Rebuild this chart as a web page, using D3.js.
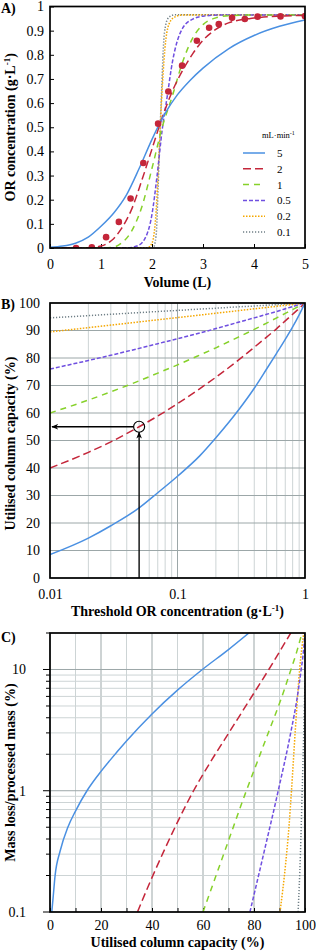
<!DOCTYPE html>
<html>
<head>
<meta charset="utf-8">
<title>Column breakthrough</title>
<script src="https://cdn.jsdelivr.net/npm/d3@7"></script>
<style>
  body { margin: 0; background: #fff; }
  svg { display: block; font-family: 'Liberation Serif', 'Times New Roman', serif; }
  .tick text { font-size: 14px; fill: #000; font-family: 'Liberation Serif', 'Times New Roman', serif; }
  .tick line { stroke: #000; }
  .axis_title { font-size: 14px; font-weight: bold; text-anchor: middle; }
  .panel_label { font-size: 14px; font-weight: bold; }
  .grid_major { stroke: #9ca7a8; stroke-width: 1; }
  .grid_minor { stroke: #cdd4d5; stroke-width: 1; }
  .frame { fill: none; stroke: #000; stroke-width: 1.7; }
  .curve { fill: none; stroke-width: 1.5; }
  .legend_text { font-size: 11px; }
</style>
</head>
<body>
<script>

// flow rates (mL/min) and their line styles
var rates  = ["5", "2", "1", "0.5", "0.2", "0.1"];
var colors = ["#4a90e2", "#c4263a", "#86d12a", "#6f4fe0", "#f5a700", "#6f7f86"];
var dashes = [null, "8,4", "6,5", "4,2", "1.5,1.5", "1.2,1.8"];

// A) breakthrough curves, [volume (L), OR concentration (g/L)]
var curveA_5  = [[0,0.003],[0.25,0.008],[0.5,0.02],[0.75,0.045],[1,0.09],[1.25,0.145],[1.5,0.22],[1.75,0.33],[2,0.45],[2.25,0.555],[2.5,0.635],[2.75,0.695],[3,0.745],[3.5,0.825],[4,0.88],[4.5,0.918],[5,0.944]];
var curveA_2  = [[0,0],[0.5,0],[0.8,0.002],[1,0.008],[1.2,0.03],[1.4,0.08],[1.6,0.16],[1.8,0.28],[2,0.41],[2.2,0.54],[2.4,0.65],[2.6,0.735],[2.8,0.805],[3,0.86],[3.25,0.905],[3.5,0.932],[4,0.952],[4.5,0.96],[5,0.963]];
var curveA_1  = [[0,0],[1,0],[1.2,0.002],[1.4,0.02],[1.6,0.07],[1.8,0.17],[2,0.33],[2.2,0.5],[2.4,0.63],[2.6,0.77],[2.8,0.87],[3,0.925],[3.25,0.953],[3.5,0.962],[4,0.965],[5,0.965]];
var curveA_05 = [[0,0],[1.5,0],[1.7,0.008],[1.85,0.035],[2,0.14],[2.1,0.3],[2.2,0.49],[2.3,0.63],[2.4,0.77],[2.5,0.86],[2.6,0.91],[2.8,0.948],[3,0.96],[3.4,0.965],[5,0.965]];
var curveA_02 = [[0,0],[1.9,0],[2,0.02],[2.08,0.15],[2.14,0.4],[2.2,0.66],[2.27,0.86],[2.35,0.935],[2.45,0.957],[2.6,0.965],[5,0.965]];
var curveA_01 = [[0,0],[2.02,0],[2.08,0.05],[2.12,0.25],[2.16,0.5],[2.19,0.66],[2.22,0.82],[2.27,0.925],[2.33,0.955],[2.45,0.966],[5,0.966]];

// A) experimental points at 2 mL/min
var expVol  = [0.51, 0.82, 1.1, 1.35, 1.58, 1.83, 2.12, 2.32, 2.59, 2.88, 3.12, 3.31, 3.57, 3.82, 4.07, 4.52, 5.0];
var expConc = [0, 0.003, 0.045, 0.108, 0.205, 0.352, 0.515, 0.648, 0.755, 0.858, 0.912, 0.927, 0.953, 0.948, 0.958, 0.959, 0.96];

// B) utilised column capacity (%) at each threshold concentration (g/L)
var thresholdB = [0.01, 0.02, 0.03, 0.05, 0.07, 0.1, 0.15, 0.2, 0.3, 0.4, 0.5, 0.6, 0.7, 0.8, 0.9, 1];
var capB_5  = [8.5, 14.5, 19, 25.5, 31, 37, 44.5, 51, 61, 69, 76, 81.8, 86.8, 91.3, 95.7, 100];
var capB_2  = [40, 45.7, 49.5, 55, 58.9, 63.4, 68.9, 73, 79.2, 83.9, 87.6, 90.7, 93.5, 95.9, 98, 100];
var capB_1  = [60, 64.7, 67.7, 71.7, 74.5, 77.5, 81.1, 83.7, 87.6, 90.4, 92.7, 94.6, 96.2, 97.6, 98.9, 100];
var capB_05 = [76, 79.1, 81, 83.5, 85.2, 87, 89.1, 90.7, 93, 94.6, 95.9, 96.9, 97.9, 98.7, 99.4, 100];
var capB_02 = [89.5, 91.05, 91.97, 93.12, 93.89, 94.7, 95.62, 96.28, 97.22, 97.88, 98.39, 98.81, 99.17, 99.48, 99.75, 100];
var capB_01 = [94.6, 95.4, 95.9, 96.5, 96.9, 97.3, 97.8, 98.1, 98.6, 98.9, 99.2, 99.4, 99.6, 99.7, 99.9, 100];

// B) worked example: 0.05 g/L threshold at 2 mL/min
var exampleThreshold = 0.05;
var exampleCapacity = 55;

// C) [utilised capacity (%), mass loss / processed mass (%)]
var curveC_5  = [[0.7,0.1],[1.2,0.13],[2,0.2],[4,0.32],[7,0.5],[10,0.68],[14.5,1],[20,1.445],[23.5,1.78],[30,2.57],[40,4.3],[50,6.76],[60,10.1],[70,14.6],[78,20]];
var curveC_2  = [[34.3,0.1],[39.3,0.178],[44.6,0.316],[50.2,0.562],[56.3,1],[63.3,1.778],[70.8,3.16],[78.3,5.62],[85.8,10],[94.4,20]];
var curveC_1  = [[60,0.1],[68.5,0.316],[77,1],[81.5,1.778],[86,3.16],[90.5,5.62],[94.5,10],[96.8,14.1],[98.8,20]];
var curveC_05 = [[78.4,0.1],[84,0.316],[89.5,1],[94.6,3.16],[96.8,5.62],[98.5,10],[99.4,14.1],[100,20]];
var curveC_02 = [[90.2,0.1],[92.4,0.25],[93.7,0.5],[94.7,1],[96.2,3.16],[97.9,10],[99.5,20]];
var curveC_01 = [[97.3,0.1],[98.2,0.3],[98.9,1],[99.5,3],[100,8]];

// tick values
var ticksA_x = [0, 1, 2, 3, 4, 5];
var ticksA_y = [0, 0.1, 0.2, 0.3, 0.4, 0.5, 0.6, 0.7, 0.8, 0.9, 1];
var ticksB_x = [0.01, 0.1, 1];
var ticksB_y = [0, 10, 20, 30, 40, 50, 60, 70, 80, 90, 100];
var ticksC_x = [0, 20, 40, 60, 80, 100];
var ticksC_y = [0.1, 1, 10];

var curvesA = [curveA_5, curveA_2, curveA_1, curveA_05, curveA_02, curveA_01];
var curvesB = [capB_5, capB_2, capB_1, capB_05, capB_02, capB_01];
var curvesC = [curveC_5, curveC_2, curveC_1, curveC_05, curveC_02, curveC_01];

// layout
var width = 316, height = 952;
var left = 50, right = 305;
var topA = 6.5, bottomA = 248;
var topB = 303, bottomB = 578;
var topC = 633, bottomC = 912;

var fmt = d3.format("~g");

var svg = d3.select("body").append("svg")
    .attr("width", width)
    .attr("height", height);

var defs = svg.append("defs");

function addClip(id, top, bottom) {
  defs.append("clipPath").attr("id", id)
    .append("rect")
    .attr("x", left).attr("y", top)
    .attr("width", right - left).attr("height", bottom - top);
}
addClip("clipA", topA, bottomA);
addClip("clipB", topB, bottomB);
addClip("clipC", topC, bottomC);

defs.append("marker")
    .attr("id", "arrow")
    .attr("viewBox", "0 0 10 10")
    .attr("refX", 9).attr("refY", 5)
    .attr("markerWidth", 7).attr("markerHeight", 7)
    .attr("markerUnits", "userSpaceOnUse")
    .attr("orient", "auto")
  .append("path")
    .attr("d", "M0,1 L10,5 L0,9 L3,5 Z")
    .attr("fill", "#000");

function styleCurve(sel, i) {
  sel.attr("class", "curve")
    .attr("stroke", colors[i])
    .attr("stroke-dasharray", dashes[i]);
}

function yTitle(text, sup, cx, cy) {
  var t = svg.append("text")
    .attr("class", "axis_title")
    .attr("transform", "translate(" + cx + "," + cy + ") rotate(-90)");
  t.append("tspan").text(text);
  if (sup) {
    t.append("tspan").attr("dy", -5).style("font-size", "9px").text("-1");
    t.append("tspan").attr("dy", 5).text(")");
  }
}

function xTitle(text, sup, cx, y) {
  var t = svg.append("text")
    .attr("class", "axis_title")
    .attr("x", cx).attr("y", y);
  t.append("tspan").text(text);
  if (sup) {
    t.append("tspan").attr("dy", -5).style("font-size", "9px").text("-1");
    t.append("tspan").attr("dy", 5).text(")");
  }
}

// ---------------- Panel A ----------------
var xA = d3.scaleLinear().domain([0, 5]).range([left, right]);
var yA = d3.scaleLinear().domain([0, 1]).range([bottomA, topA]);

var lineA = d3.line()
    .x(function(d) { return xA(d[0]); })
    .y(function(d) { return yA(d[1]); })
    .curve(d3.curveMonotoneX);

svg.append("g")
    .attr("transform", "translate(0," + bottomA + ")")
    .call(d3.axisBottom(xA).tickValues(ticksA_x).tickSize(-4).tickPadding(11).tickFormat(fmt))
    .call(function(g) { g.select(".domain").remove(); });

svg.append("g")
    .attr("transform", "translate(" + left + ",0)")
    .call(d3.axisLeft(yA).tickValues(ticksA_y).tickSize(-4).tickPadding(6).tickFormat(fmt))
    .call(function(g) { g.select(".domain").remove(); });

var gA = svg.append("g").attr("clip-path", "url(#clipA)");

// draw slow rates first so the solid blue stays visible
for (var i = curvesA.length - 1; i >= 0; i--) {
  gA.append("path").datum(curvesA[i]).attr("d", lineA).call(styleCurve, i);
}

gA.selectAll(".dot")
    .data(expVol)
    .enter()
    .append("circle")
    .attr("cx", function(d) { return xA(d); })
    .attr("cy", function(d, i) { return yA(expConc[i]); })
    .attr("r", 3.3)
    .attr("fill", "#c4263a");

svg.append("rect").attr("class", "frame")
    .attr("x", left).attr("y", topA)
    .attr("width", right - left).attr("height", bottomA - topA);

// legend
var legend = svg.append("g");
legend.append("text")
    .attr("x", 262).attr("y", 138)
    .style("font-size", "8.5px")
    .text("mL\u00b7min")
  .append("tspan")
    .attr("dy", -3).style("font-size", "6px").text("-1");

rates.forEach(function(r, i) {
  var ly = 153 + i * 15.8;
  legend.append("line")
      .attr("x1", 243).attr("x2", 265)
      .attr("y1", ly).attr("y2", ly)
      .call(styleCurve, i);
  legend.append("text")
      .attr("class", "legend_text")
      .attr("x", 277).attr("y", ly + 4)
      .text(r);
});

svg.append("text").attr("class", "panel_label").attr("x", 1).attr("y", 13).text("A)");
yTitle("OR concentration (g\u00b7L", true, 15, (topA + bottomA) / 2);
xTitle("Volume (L)", false, (left + right) / 2, 287);

// ---------------- Panel B ----------------
var xB = d3.scaleLog().domain([0.01, 1]).range([left, right]);
var yB = d3.scaleLinear().domain([0, 100]).range([bottomB, topB]);

var lineB = d3.line()
    .x(function(d, i) { return xB(thresholdB[i]); })
    .y(function(d) { return yB(d); })
    .curve(d3.curveMonotoneX);

var gridB = svg.append("g");
xB.ticks().forEach(function(t) {
  var major = Math.abs(Math.log10(t) - Math.round(Math.log10(t))) < 1e-6;
  gridB.append("line")
      .attr("class", major ? "grid_major" : "grid_minor")
      .attr("x1", xB(t)).attr("x2", xB(t))
      .attr("y1", topB).attr("y2", bottomB);
});
ticksB_y.forEach(function(t) {
  gridB.append("line")
      .attr("class", "grid_major")
      .attr("x1", left).attr("x2", right)
      .attr("y1", yB(t)).attr("y2", yB(t));
});

svg.append("g")
    .attr("transform", "translate(0," + bottomB + ")")
    .call(d3.axisBottom(xB).tickValues(ticksB_x).tickSize(0).tickPadding(11).tickFormat(fmt))
    .call(function(g) { g.select(".domain").remove(); });

svg.append("g")
    .attr("transform", "translate(" + left + ",0)")
    .call(d3.axisLeft(yB).tickValues(ticksB_y).tickSize(0).tickPadding(10).tickFormat(fmt))
    .call(function(g) { g.select(".domain").remove(); });

var gB = svg.append("g").attr("clip-path", "url(#clipB)");
for (var j = curvesB.length - 1; j >= 0; j--) {
  gB.append("path").datum(curvesB[j]).attr("d", lineB).call(styleCurve, j);
}

// worked example: circle and arrows
var exX = xB(exampleThreshold), exY = yB(exampleCapacity), exR = 5.5;
svg.append("circle")
    .attr("cx", exX).attr("cy", exY).attr("r", exR)
    .attr("fill", "none").attr("stroke", "#000").attr("stroke-width", 1.2);
svg.append("line")
    .attr("x1", exX - exR).attr("y1", exY)
    .attr("x2", left + 2).attr("y2", exY)
    .attr("stroke", "#000").attr("stroke-width", 1.3)
    .attr("marker-end", "url(#arrow)");
svg.append("line")
    .attr("x1", exX).attr("y1", bottomB)
    .attr("x2", exX).attr("y2", exY + exR)
    .attr("stroke", "#000").attr("stroke-width", 1.3)
    .attr("marker-end", "url(#arrow)");

svg.append("rect").attr("class", "frame")
    .attr("x", left).attr("y", topB)
    .attr("width", right - left).attr("height", bottomB - topB);

svg.append("text").attr("class", "panel_label").attr("x", 1).attr("y", 309).text("B)");
yTitle("Utilised column capacity (%)", false, 15, (topB + bottomB) / 2 + 3);
xTitle("Threshold OR concentration (g\u00b7L", true, (left + right) / 2, 616);

// ---------------- Panel C ----------------
var xC = d3.scaleLinear().domain([0, 100]).range([left, right]);
var yC = d3.scaleLog().domain([0.1, 20]).range([bottomC, topC]);

var lineC = d3.line()
    .x(function(d) { return xC(d[0]); })
    .y(function(d) { return yC(d[1]); })
    .curve(d3.curveMonotoneX);

var gridC = svg.append("g");
d3.range(0, 101, 10).forEach(function(t) {
  gridC.append("line")
      .attr("class", t % 20 === 0 ? "grid_major" : "grid_minor")
      .attr("x1", xC(t)).attr("x2", xC(t))
      .attr("y1", topC).attr("y2", bottomC);
});
yC.ticks().forEach(function(t) {
  var major = Math.abs(Math.log10(t) - Math.round(Math.log10(t))) < 1e-6;
  gridC.append("line")
      .attr("class", major ? "grid_major" : "grid_minor")
      .attr("x1", left).attr("x2", right)
      .attr("y1", yC(t)).attr("y2", yC(t));
  // outward tick on the left axis
  gridC.append("line")
      .attr("x1", left - (major ? 7 : 4)).attr("x2", left)
      .attr("y1", yC(t)).attr("y2", yC(t))
      .attr("stroke", "#000");
});

svg.append("g")
    .attr("transform", "translate(0," + bottomC + ")")
    .call(d3.axisBottom(xC).tickValues(d3.range(0, 101, 10)).tickSize(-4).tickPadding(8)
      .tickFormat(function(d) { return ticksC_x.indexOf(d) >= 0 ? fmt(d) : ""; }))
    .call(function(g) { g.select(".domain").remove(); });

svg.append("g")
    .attr("transform", "translate(" + left + ",0)")
    .call(d3.axisLeft(yC).tickValues(ticksC_y).tickSize(0).tickPadding(24).tickFormat(fmt))
    .call(function(g) { g.select(".domain").remove(); });

var gC = svg.append("g").attr("clip-path", "url(#clipC)");
for (var k = curvesC.length - 1; k >= 0; k--) {
  gC.append("path").datum(curvesC[k]).attr("d", lineC).call(styleCurve, k);
}

svg.append("rect").attr("class", "frame")
    .attr("x", left).attr("y", topC)
    .attr("width", right - left).attr("height", bottomC - topC);

svg.append("text").attr("class", "panel_label").attr("x", 1).attr("y", 642).text("C)");
yTitle("Mass loss/processed mass (%)", false, 15, (topC + bottomC) / 2);
xTitle("Utilised column capacity (%)", false, (left + right) / 2, 947);

</script>
</body>
</html>
